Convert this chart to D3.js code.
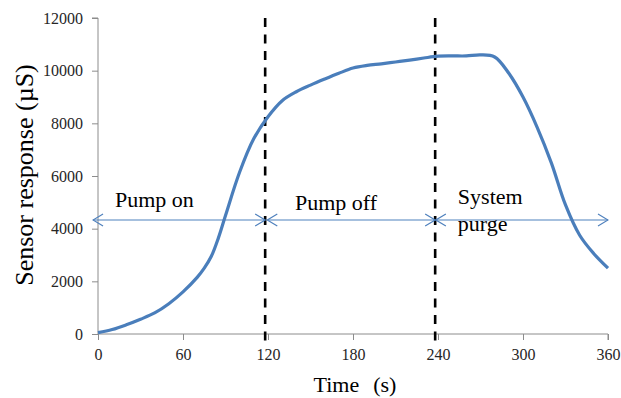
<!DOCTYPE html>
<html>
<head>
<meta charset="utf-8">
<script src="https://cdn.jsdelivr.net/npm/d3@7"></script>
<style>
  body { margin: 0; background: #fff; }
  text { font-family: "Liberation Serif", "Times New Roman", serif; }
  .axis path, .axis line { stroke: #8c8c8c; stroke-width: 1; }
  .axis text { font-size: 16px; fill: #262626; }
</style>
</head>
<body>
<div id="chart"></div>
<script>
// sensor trace
const times = [0, 10, 20, 30, 40, 50, 60, 70, 75, 80, 85, 90, 100, 110, 120, 130, 140, 150, 160, 170, 180,
  190, 200, 210, 220, 230, 240, 250, 260, 270, 280, 290, 300, 310, 320, 330, 340, 350, 360];
const response = [50, 170, 350, 560, 800, 1150, 1600, 2150, 2500, 2950, 3650, 4500, 6150, 7420, 8250, 8860, 9200,
  9450, 9680, 9900, 10100, 10200, 10260, 10330, 10400, 10480, 10550, 10560, 10560, 10600, 10520,
  9900, 9000, 7850, 6500, 4900, 3750, 3050, 2500];

const xTicks = [0, 60, 120, 180, 240, 300, 360];
const yTicks = [0, 2000, 4000, 6000, 8000, 10000, 12000];

// phase boundaries (dashed) and the double arrows
const phaseLines = [118, 238];
const arrowSpans = [[-3.5, 118], [119.5, 238], [238.5, 360]];
const arrowLevel = 4330;
const phaseLabels = [
  { t: 12, v: 4820, lines: ["Pump on"] },
  { t: 139, v: 4710, lines: ["Pump off"] },
  { t: 254, v: 4940, lines: ["System", "purge"] }
];

const width = 621, height = 398;
const margin = { top: 18, right: 13, bottom: 64, left: 98 };

const svg = d3.select("#chart").append("svg")
  .attr("width", width)
  .attr("height", height);

svg.append("rect").attr("width", width).attr("height", height).attr("fill", "#fff");

const x = d3.scaleLinear().domain([0, 360]).range([margin.left, width - margin.right]);
const y = d3.scaleLinear().domain([0, 12000]).range([height - margin.bottom, margin.top]);

// axes
const yAxis = svg.append("g")
  .attr("class", "axis")
  .attr("transform", "translate(" + x(0) + ",0)")
  .call(d3.axisLeft(y).tickValues(yTicks).tickSize(6).tickSizeOuter(6).tickPadding(9).tickFormat(d3.format("d")));

const xAxis = svg.append("g")
  .attr("class", "axis")
  .attr("transform", "translate(0," + y(0) + ")")
  .call(d3.axisBottom(x).tickValues(xTicks).tickSize(6).tickSizeOuter(6).tickPadding(9).tickFormat(d3.format("d")));

xAxis.select(".domain").attr("d", "M" + x(0) + ",0H" + x(360) + "V6");
yAxis.select(".domain").attr("d", "M-6," + y(12000) + "H0V" + y(0));

// dashed phase lines
svg.selectAll(".phase")
  .data(phaseLines)
  .enter().append("line")
  .attr("class", "phase")
  .attr("x1", d => x(d)).attr("x2", d => x(d))
  .attr("y1", y(12000)).attr("y2", y(-500))
  .attr("stroke", "#000")
  .attr("stroke-width", 2.6)
  .attr("stroke-dasharray", "9,7.5");

// arrow heads
const defs = svg.append("defs");
defs.append("marker")
  .attr("id", "head")
  .attr("viewBox", "-1 -7 12 14")
  .attr("refX", 10).attr("refY", 0)
  .attr("markerWidth", 12).attr("markerHeight", 14)
  .attr("markerUnits", "userSpaceOnUse")
  .attr("orient", "auto-start-reverse")
  .append("path")
  .attr("d", "M0,-6L10,0L0,6")
  .attr("fill", "none")
  .attr("stroke", "#4f81bd")
  .attr("stroke-width", 1.2);

svg.selectAll(".span")
  .data(arrowSpans)
  .enter().append("line")
  .attr("class", "span")
  .attr("x1", d => x(d[0])).attr("x2", d => x(d[1]))
  .attr("y1", y(arrowLevel)).attr("y2", y(arrowLevel))
  .attr("stroke", "#4f81bd")
  .attr("stroke-width", 1.2)
  .attr("marker-start", "url(#head)")
  .attr("marker-end", "url(#head)");

// sensor line
const data = times.map((t, i) => ({ t: t, v: response[i] }));
const line = d3.line()
  .x(d => x(d.t))
  .y(d => y(d.v))
  .curve(d3.curveCatmullRom.alpha(0.5));

svg.append("path")
  .datum(data)
  .attr("fill", "none")
  .attr("stroke", "#4a7ebb")
  .attr("stroke-width", 3.2)
  .attr("stroke-linejoin", "round")
  .attr("d", line);

// phase labels
phaseLabels.forEach(p => {
  const txt = svg.append("text")
    .attr("x", x(p.t))
    .attr("y", y(p.v))
    .attr("font-size", 22)
    .attr("fill", "#000");
  p.lines.forEach((s, i) => {
    txt.append("tspan")
      .attr("x", x(p.t))
      .attr("dy", i === 0 ? 0 : 27)
      .text(s);
  });
});

// axis titles
const xTitle = svg.append("text")
  .attr("x", (x(0) + x(360)) / 2 + 2)
  .attr("y", 392)
  .attr("text-anchor", "middle")
  .attr("font-size", 22)
  .attr("fill", "#000");
xTitle.append("tspan").text("Time");
xTitle.append("tspan").attr("dx", 14).text("(s)");

svg.append("text")
  .attr("transform", "translate(33," + 175 + ") rotate(-90)")
  .attr("text-anchor", "middle")
  .attr("font-size", 26)
  .attr("fill", "#000")
  .text("Sensor response (µS)");
</script>
</body>
</html>
